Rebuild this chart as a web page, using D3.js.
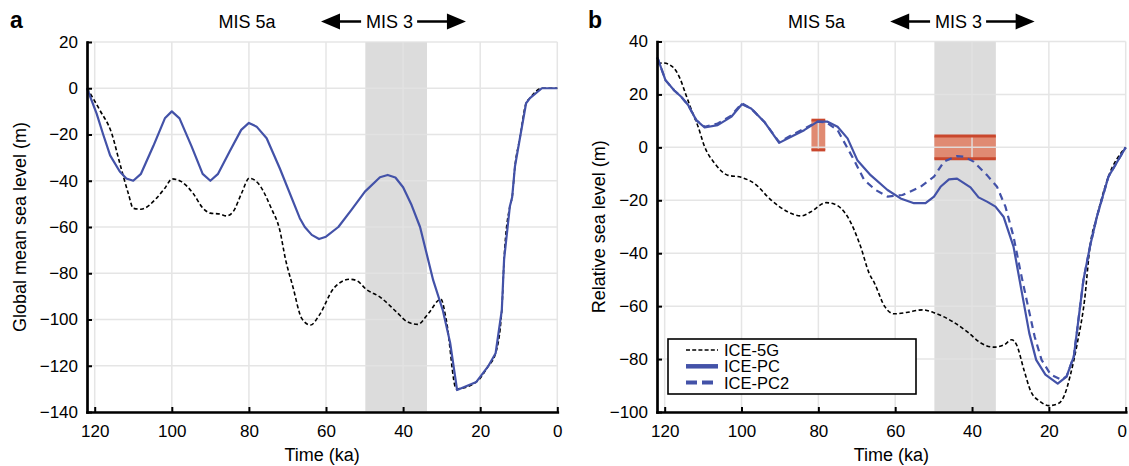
<!DOCTYPE html>
<html>
<head>
<meta charset="utf-8">
<script src="https://cdn.jsdelivr.net/npm/d3@7"></script>
<style>
  body { margin: 0; background: #fff; }
  svg { font-family: "Liberation Sans", Arial, Helvetica, sans-serif; }
</style>
</head>
<body>
<svg id="chart" width="1129" height="466"></svg>
<script>
const timeTicks = [120, 100, 80, 60, 40, 20, 0];
const gmslTicks = [20, 0, -20, -40, -60, -80, -100, -120, -140];
const rslTicks = [40, 20, 0, -20, -40, -60, -80, -100];
const mis3Band = [49.8, 33.8];
// [t from, t to, low, high]
const rslBoxes = [[81.8, 78.2, -1, 10.3], [49.8, 33.8, -4.3, 4.3]];

// panel a: global mean sea level, [ka, m]
const gmsl5G = [[122,0],[118.7,-9.4],[115.6,-19.5],[113.5,-32.4],[111.3,-45.4],[110,-51.9],[108,-52.3],
  [104,-47.6],[101.8,-43.2],[99.9,-39.2],[97.5,-40.4],[94.5,-45.4],[91.9,-51.9],[90,-54],[87.5,-54.4],
  [85.8,-55.2],[84.1,-53.4],[81.9,-45.4],[79.9,-38.9],[77.6,-41.1],[74.2,-51.9],[72,-61.3],[70.5,-74],
  [68.6,-85.8],[66.3,-99.5],[64,-102.4],[61.7,-98],[58,-86.5],[53.8,-82.6],[52,-83.2],[49.6,-86.9],
  [45.9,-90.4],[41.8,-96.6],[39,-100.9],[36.2,-102.1],[33.4,-97.3],[30.2,-91.2],[28.8,-100.2],[26.2,-130],
  [21,-127],[18,-120.4],[16,-114.6],[14.4,-96],[13.8,-74],[12.3,-51],[11.7,-47],[11,-34],[9.7,-21.6],
  [8.1,-6.5],[7.1,-4.3],[4,0],[0,0]];
const gmslPC = [[122,0],[119.5,-11],[117.8,-20],[116,-29],[113.5,-36],[111.8,-39],[110,-40],[108,-37],
  [104.8,-25],[101.8,-13],[100,-10],[98,-13],[94.9,-25],[92,-37],[90,-40],[88,-37],[84.9,-27],[82,-18],
  [80,-15],[78,-16.6],[75.4,-21.6],[72,-34.6],[66.8,-56.2],[65.5,-60],[63.7,-63.4],[61.8,-65.2],[60,-64.2],
  [56.8,-60],[53.4,-52.6],[49.9,-44.7],[46,-38.5],[44,-37.5],[42,-38.6],[40,-42.8],[37.8,-50.5],[35.6,-60],
  [32.2,-83],[29.7,-96],[27.8,-110],[26,-130.5],[21,-127],[18,-120.4],[16,-114.6],[14.4,-96],[13.8,-74],
  [12.3,-51],[11.7,-47],[11,-34],[9.7,-21.6],[8.1,-6.5],[7.1,-4.3],[4,0],[0,0]];

// panel b: relative sea level, [ka, m]
const rsl5G = [[121.8,31.5],[120.4,31.9],[118,30.5],[116,26],[114.5,20],[113,14],[111.3,7.8],[109.6,0.2],
  [107,-6],[103.6,-10.5],[100.1,-11.3],[96.7,-13.6],[92.3,-19.9],[88,-24.3],[84.5,-25.9],[81.9,-24.3],
  [78,-20.9],[75.9,-21.4],[72.4,-26.2],[69,-37.5],[66.8,-47.5],[65.4,-51.3],[62.7,-60.2],[60.3,-62.9],
  [57.1,-62.4],[52.9,-61.4],[50.1,-62.4],[45.1,-65.8],[41.3,-69.6],[37.6,-74],[34.4,-75.5],[31.6,-74.6],
  [29.7,-72.7],[28.4,-74.6],[26.5,-84],[24.7,-92.2],[22.3,-96],[20,-97.6],[17.7,-96.9],[15.9,-93.5],
  [14.5,-86.6],[12.6,-74],[10.7,-57.6],[9.3,-37.5],[7.5,-26.2],[4.5,-11.1],[0,0]];
const rslPC = [[122,34],[121.7,33.2],[119.8,25.4],[117.5,21.5],[115.7,19.1],[113.9,16],[111.8,10.3],[109.6,7.5],
  [106.2,8.4],[102.7,11.5],[99.9,16.3],[97.5,14.7],[94.1,9.7],[90.2,1.7],[87.1,4],[83.7,6.5],[80.2,9.7],
  [77.6,9.7],[75,7.8],[72.4,3.4],[69.8,-5],[66.4,-10.5],[62,-16.1],[58.6,-19.3],[55.1,-21.1],[52.1,-21.1],
  [49.9,-18.6],[48.2,-14.9],[46,-12.1],[43.9,-11.8],[40.4,-15.1],[38.3,-18.9],[36.1,-20.5],[33.9,-22.4],
  [31.8,-26.2],[29.2,-37.5],[27,-55.1],[25.1,-70.2],[23.3,-80.3],[20.9,-85.9],[17.7,-89.3],[15.4,-86.6],
  [13.5,-79],[11,-50.1],[9.3,-37.5],[7.5,-26.2],[4.5,-11.1],[0,0]];
const rslPC2 = [[122,34],[121.7,33.2],[119.8,25.4],[117.5,21.5],[115.7,19.1],[113.9,16],[111.8,10.3],[109.6,7.8],
  [106.2,9],[102.7,12],[99.9,16.6],[97.5,14.7],[94.1,9.7],[90.2,2],[87.1,4.5],[83.7,7],[80.2,9.7],
  [78,9.5],[75,6.5],[70.7,-4.8],[68.1,-12.3],[65.1,-16.1],[62,-18.6],[58.1,-18],[53.4,-14.9],[49.9,-11.1],
  [47.3,-5.4],[43.9,-3.3],[42.1,-3.5],[39.6,-5.4],[36.1,-10.5],[33.5,-14.9],[31.3,-22.4],[29.2,-33.7],
  [27.3,-47.5],[25.6,-58.9],[23.7,-71.5],[21.9,-80.3],[19.5,-85.9],[16.8,-87.8],[15.4,-86.6],[13.5,-79],
  [11,-50.1],[9.3,-37.5],[7.5,-26.2],[4.5,-11.1],[0,0]];

const BLUE = "#4352a8";
const svg = d3.select("#chart");

const styles = {
  "ICE-5G": {color: "#000", width: 1.6, dash: "4,2.5", curve: d3.curveMonotoneX},
  "ICE-PC": {color: BLUE, width: 2.2, dash: null, curve: d3.curveLinear},
  "ICE-PC2": {color: BLUE, width: 2.2, dash: "7,5", curve: d3.curveLinear}
};

function drawPanel(p) {
  let x = d3.scaleLinear().domain([122, 0]).range([p.left, p.right]);
  let y = d3.scaleLinear().domain(p.yDomain).range([p.bottom, p.top]);
  let g = svg.append("g");

  // MIS 3 band
  g.append("rect")
    .attr("x", x(mis3Band[0])).attr("width", x(mis3Band[1]) - x(mis3Band[0]))
    .attr("y", p.top).attr("height", p.bottom - p.top)
    .attr("fill", "#dcdcdc");

  // boxes (fill)
  for (let b of p.boxes) {
    g.append("rect")
      .attr("x", x(b[0])).attr("width", x(b[1]) - x(b[0]))
      .attr("y", y(b[3])).attr("height", y(b[2]) - y(b[3]))
      .attr("fill", "#e08a72");
  }

  // grid
  let grid = g.append("g").attr("stroke", "#e3e3e3").attr("stroke-width", 1.5).attr("opacity", 0.9);
  timeTicks.forEach(t => grid.append("line").attr("x1", x(t)).attr("x2", x(t)).attr("y1", p.top).attr("y2", p.bottom));
  p.yTicks.forEach(v => grid.append("line").attr("x1", p.left).attr("x2", p.right).attr("y1", y(v)).attr("y2", y(v)));

  // boxes (edges)
  for (let b of p.boxes) {
    [b[2], b[3]].forEach(v => {
      g.append("line").attr("x1", x(b[0])).attr("x2", x(b[1]))
        .attr("y1", y(v)).attr("y2", y(v))
        .attr("stroke", "#c9472d").attr("stroke-width", 2.8);
    });
  }

  // series
  for (let s of p.series) {
    let st = styles[s.name];
    let line = d3.line().x(d => x(d[0])).y(d => y(d[1])).curve(st.curve);
    g.append("path").datum(s.data)
      .attr("d", line)
      .attr("fill", "none")
      .attr("stroke", st.color)
      .attr("stroke-width", st.width)
      .attr("stroke-dasharray", st.dash)
      .attr("stroke-linejoin", "round");
  }

  // axes
  let xAxis = g.append("g").attr("transform", `translate(0,${p.bottom})`)
    .call(d3.axisBottom(x).tickValues(timeTicks).tickSizeInner(-5).tickSizeOuter(0).tickPadding(12.5));
  let yAxis = g.append("g").attr("transform", `translate(${p.left},0)`)
    .call(d3.axisLeft(y).tickValues(p.yTicks).tickSizeInner(-5).tickSizeOuter(0).tickPadding(9));
  [xAxis, yAxis].forEach(a => {
    a.select(".domain").attr("stroke-width", 2.7).attr("stroke-linecap", "square");
    a.selectAll(".tick line").attr("stroke-width", 2);
    a.selectAll("text").attr("font-size", 17).attr("fill", "#000")
      .attr("font-family", "'Liberation Sans', Arial, sans-serif");
  });
  // keep the last time label inside the page
  if (p.right > 1100) xAxis.selectAll(".tick text").filter(d => d === 0).attr("dx", -4);

  // titles
  g.append("text").attr("x", (p.left + p.right) / 2).attr("y", 461)
    .attr("text-anchor", "middle").attr("font-size", 18).text("Time (ka)");
  g.append("text").attr("transform", `translate(${p.titleX},${(p.top + p.bottom) / 2}) rotate(-90)`)
    .attr("text-anchor", "middle").attr("font-size", 18).text(p.yTitle);
  g.append("text").attr("x", p.labelX).attr("y", 27.5)
    .attr("font-size", 23).attr("font-weight", "bold").text(p.label);

  // MIS annotations
  g.append("text").attr("x", x(80.5)).attr("y", 27.5).attr("text-anchor", "middle")
    .attr("font-size", 18).text("MIS 5a");
  let mis = g.append("text").attr("x", x(43.5)).attr("y", 27.5).attr("text-anchor", "middle")
    .attr("font-size", 18).text("MIS 3");
  let half = mis.node().getComputedTextLength() / 2;
  let cy = 21.5, head = 19, hw = 8;
  let lTip = x(61.3), rTip = x(23.7);
  g.append("line").attr("x1", lTip + head - 1).attr("x2", x(43.5) - half - 5)
    .attr("y1", cy).attr("y2", cy).attr("stroke", "#000").attr("stroke-width", 2.5);
  g.append("line").attr("x1", x(43.5) + half + 4).attr("x2", rTip - head + 1)
    .attr("y1", cy).attr("y2", cy).attr("stroke", "#000").attr("stroke-width", 2.5);
  g.append("path").attr("d", `M${lTip},${cy} L${lTip + head},${cy - hw} L${lTip + head},${cy + hw} Z`);
  g.append("path").attr("d", `M${rTip},${cy} L${rTip - head},${cy - hw} L${rTip - head},${cy + hw} Z`);

  return {g, x, y};
}

drawPanel({
  left: 87, right: 557.3, top: 42, bottom: 412,
  yDomain: [-140, 20], yTicks: gmslTicks, boxes: [],
  series: [{name: "ICE-5G", data: gmsl5G}, {name: "ICE-PC", data: gmslPC}],
  yTitle: "Global mean sea level (m)", titleX: 26, label: "a", labelX: 10
});

let pb = drawPanel({
  left: 657, right: 1125.7, top: 41.5, bottom: 412,
  yDomain: [-100, 40], yTicks: rslTicks, boxes: rslBoxes,
  series: [{name: "ICE-5G", data: rsl5G}, {name: "ICE-PC2", data: rslPC2}, {name: "ICE-PC", data: rslPC}],
  yTitle: "Relative sea level (m)", titleX: 605, label: "b", labelX: 588
});

// legend
let lg = pb.g.append("g").attr("transform", "translate(668,339)");
lg.append("rect").attr("width", 248).attr("height", 55)
  .attr("fill", "#fff").attr("stroke", "#000").attr("stroke-width", 1.6);
const legendItems = [
  {name: "ICE-5G", width: 1.6, dash: "4,2.2", color: "#000"},
  {name: "ICE-PC", width: 4.5, dash: null, color: BLUE},
  {name: "ICE-PC2", width: 4, dash: "11,5", color: BLUE}
];
legendItems.forEach((d, i) => {
  let cy = 11 + i * 16.3;
  lg.append("line").attr("x1", 18).attr("x2", 50).attr("y1", cy).attr("y2", cy)
    .attr("stroke", d.color).attr("stroke-width", d.width).attr("stroke-dasharray", d.dash);
  lg.append("text").attr("x", 56).attr("y", cy).attr("dy", "0.36em")
    .attr("font-size", 16.5).text(d.name);
});
</script>
</body>
</html>
